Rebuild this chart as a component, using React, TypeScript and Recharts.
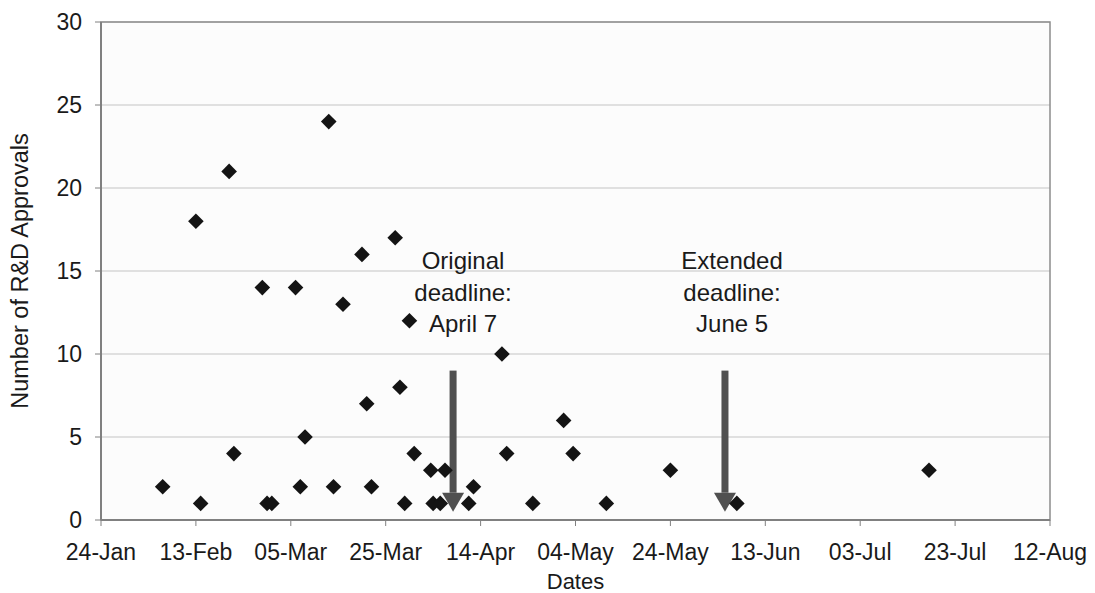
import React from 'react';
import {
  ScatterChart,
  Scatter,
  XAxis,
  YAxis,
  CartesianGrid,
  ReferenceLine,
  ReferenceDot,
  ReferenceArea,
} from 'recharts';

// x values are days counted from 24-Jan
const tickDays = [0, 20, 40, 60, 80, 100, 120, 140, 160, 180, 200];
const tickLabels = ['24-Jan', '13-Feb', '05-Mar', '25-Mar', '14-Apr', '04-May', '24-May', '13-Jun', '03-Jul', '23-Jul', '12-Aug'];
const countTicks = [0, 5, 10, 15, 20, 25, 30];

const approvalDays = [
  13, 21, 20, 27, 28, 34, 35, 36, 41, 42, 43, 48, 49, 51, 55, 56, 57, 62, 63, 64,
  65, 66, 69.5, 70, 71.5, 72.5, 77.5, 78.5, 84.5, 85.5, 91, 97.5, 99.5, 106.5, 120, 134, 174.5,
];
const approvalCounts = [
  2, 1, 18, 21, 4, 14, 1, 1, 14, 2, 5, 24, 2, 13, 16, 7, 2, 17, 8, 1,
  12, 4, 3, 1, 1, 3, 1, 2, 10, 4, 1, 6, 4, 1, 3, 1, 3,
];

const deadlineDays = [74.2, 131.5];
const arrowTop = 9;
const arrowTip = 0.5;
const noteDays = [76.3, 133];
const noteCount = 15.1;
const noteLines = [
  ['Original', 'deadline:', 'April 7'],
  ['Extended', 'deadline:', 'June 5'],
];

const data = approvalDays.map((day, i) => ({ day, count: approvalCounts[i] }));

const FONT = '"Liberation Sans", Arial, sans-serif';
const AXIS = '#808080';

const Diamond = (props: any) => {
  const { cx, cy } = props;
  const r = 7.8;
  return (
    <polygon
      points={`${cx},${cy - r} ${cx + r},${cy} ${cx},${cy + r} ${cx - r},${cy}`}
      fill="#141414"
    />
  );
};

const Arrow = (props: any) => {
  const { x1, y1, y2 } = props;
  const headH = 19;
  const headW = 11;
  return (
    <g>
      <rect x={x1 - 3.5} y={y1} width={7} height={y2 - headH - y1} fill="#505050" />
      <polygon
        points={`${x1 - headW},${y2 - headH} ${x1 + headW},${y2 - headH} ${x1},${y2}`}
        fill="#505050"
      />
    </g>
  );
};

const noteShape = (lines: string[]) => (props: any) => {
  const { cx, cy } = props;
  return (
    <text x={cx} y={cy} textAnchor="middle" fontSize={24} fill="#1a1a1a" fontFamily={FONT}>
      {lines.map((l, i) => (
        <tspan key={i} x={cx} dy={i === 0 ? 0 : 31.5}>
          {l}
        </tspan>
      ))}
    </text>
  );
};

export default function App() {
  return (
    <div style={{ position: 'absolute', left: 0, top: 0, background: '#fff' }}>
      <ScatterChart
        width={1095}
        height={593}
        margin={{ top: 22, right: 45, bottom: 0, left: 0 }}
        style={{ fontFamily: FONT }}
      >
        <CartesianGrid vertical={false} stroke="#c4c4c4" fill="#fcfcfc" />
        <ReferenceArea x1={0} x2={200} y1={0} y2={30} fill="none" stroke="#8c8c8c" strokeWidth={1.5} />
        <XAxis
          dataKey="day"
          type="number"
          domain={[0, 200]}
          ticks={tickDays}
          interval={0}
          tickFormatter={(v: number) => tickLabels[tickDays.indexOf(v)]}
          height={73}
          tickSize={6}
          tickMargin={18}
          tick={{ fill: '#1a1a1a', fontSize: 23 }}
          axisLine={{ stroke: AXIS, strokeWidth: 2 }}
          tickLine={{ stroke: AXIS }}
          label={{
            content: (p: any) => {
              const vb = p.viewBox;
              return (
                <text x={vb.x + vb.width / 2} y={589} textAnchor="middle" fontSize={22} fill="#1a1a1a">
                  Dates
                </text>
              );
            },
          }}
        />
        <YAxis
          dataKey="count"
          type="number"
          domain={[0, 30]}
          ticks={countTicks}
          interval={0}
          width={101}
          tickSize={6}
          tickMargin={13}
          tick={{ fill: '#1a1a1a', fontSize: 23 }}
          axisLine={{ stroke: AXIS, strokeWidth: 2 }}
          tickLine={{ stroke: AXIS }}
          label={{
            content: (p: any) => {
              const vb = p.viewBox;
              const cy = vb.y + vb.height / 2;
              return (
                <text
                  x={28}
                  y={cy}
                  textAnchor="middle"
                  fontSize={23.5}
                  fill="#1a1a1a"
                  transform={`rotate(-90, 28, ${cy})`}
                >
                  Number of R&amp;D Approvals
                </text>
              );
            },
          }}
        />
        <Scatter data={data} shape={<Diamond />} isAnimationActive={false} />
        {deadlineDays.map((d, i) => (
          <ReferenceLine
            key={`a${i}`}
            segment={[
              { x: d, y: arrowTop },
              { x: d, y: arrowTip },
            ]}
            shape={Arrow}
          />
        ))}
        {noteDays.map((d, i) => (
          <ReferenceDot key={`n${i}`} x={d} y={noteCount} shape={noteShape(noteLines[i])} />
        ))}
      </ScatterChart>
    </div>
  );
}
